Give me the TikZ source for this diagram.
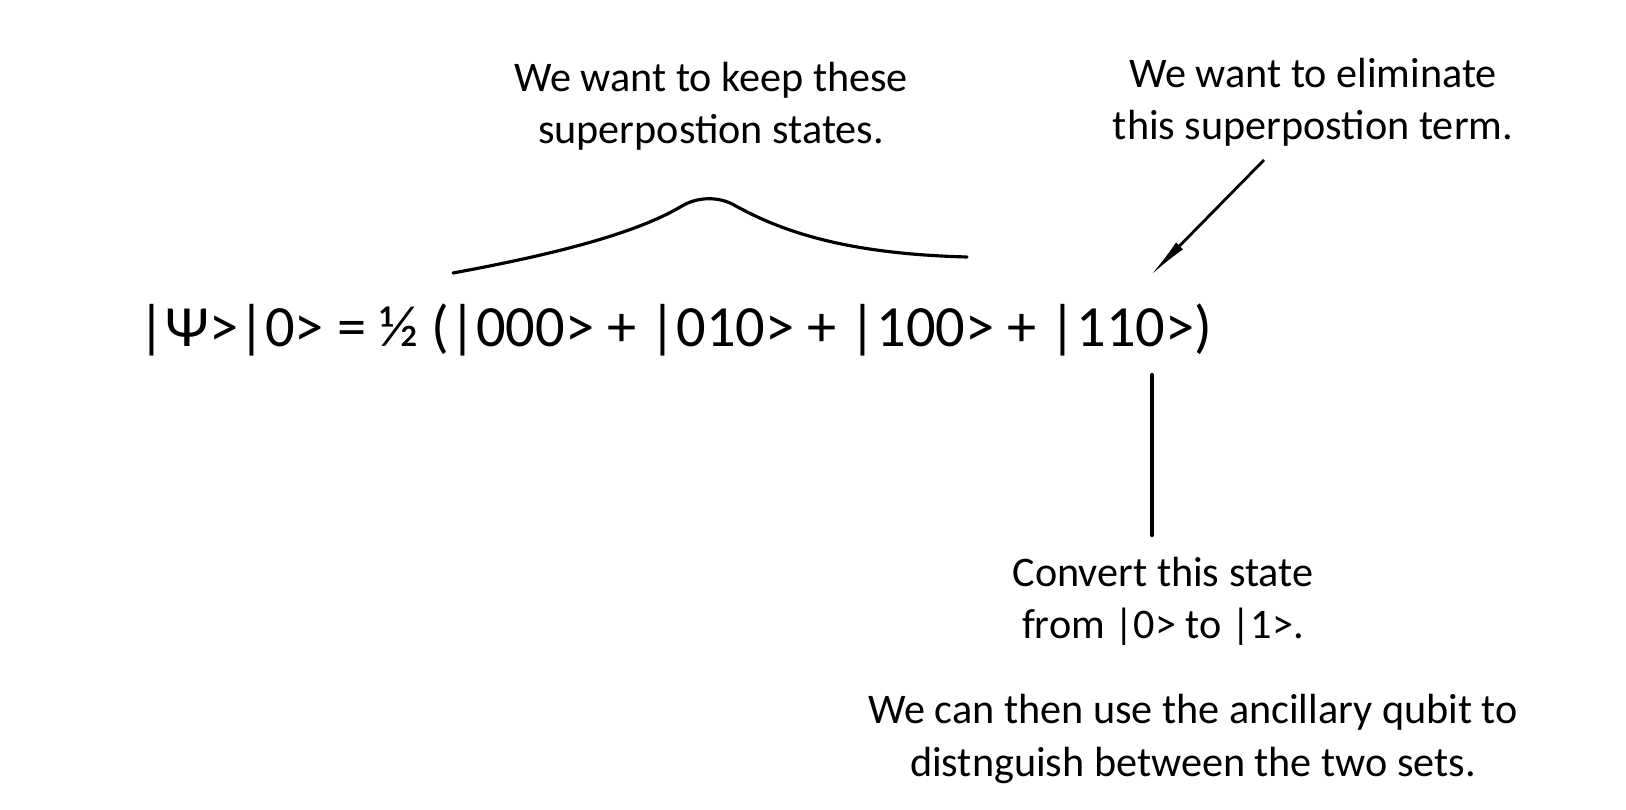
\documentclass[tikz,border=0pt]{standalone}
\usepackage{fontspec}
\setmainfont{Carlito}
\usetikzlibrary{positioning}
\usetikzlibrary{calc}
\usetikzlibrary{arrows.meta}
\tikzset{
    note/.style={align=center, inner sep=0pt, font=\fontsize{12pt}{14.8pt}\selectfont},
    eqn/.style={inner sep=0pt, font=\fontsize{16.6pt}{20pt}\selectfont},
    mark line/.style={line width=1pt, line cap=round}
}

\begin{document}
\begin{tikzpicture}[x=0.01cm, y=-0.01cm, >=latex]
    \useasboundingbox (0,0) rectangle (1626,810);
    \node[eqn, anchor=base west] (eq) at (138,347) {|Ψ>|0> = ½ (|000> + |010> + |100> + |110>)};
    \node[note] (keep) at (711,106) {We want to keep these\\superpostion states.};
    \node[note] (elim) at (1313,102) {We want to eliminate\\this superpostion term.};
    \node[note] (conv) at (1163,601) {Convert this state\\from |0> to |1>.};
    \node[note] (sets) at (1193,739) {We can then use the ancillary qubit to\\distnguish between the two sets.};
    % hand-drawn brace over the kept terms
    \draw[mark line, line width=0.9pt] (453,273) .. controls (540,257) and (632,236) .. (682,206)
        .. controls (697,197) and (718,196) .. (734,205)
        .. controls (784,233) and (850,254) .. (967,257);
    \coordinate (elimtail) at (1264,160);
    \coordinate (elimtip) at (1150,276);
    \draw[-{Latex[length=12pt,width=2.8pt]}, line width=0.8pt] (elimtail) -- (elimtip);
    \coordinate (convtop) at (1152,375);
    \coordinate (convbot) at (1152,535);
    \draw[mark line, line width=1.2pt] (convtop) -- (convbot);
\end{tikzpicture}
\end{document}
